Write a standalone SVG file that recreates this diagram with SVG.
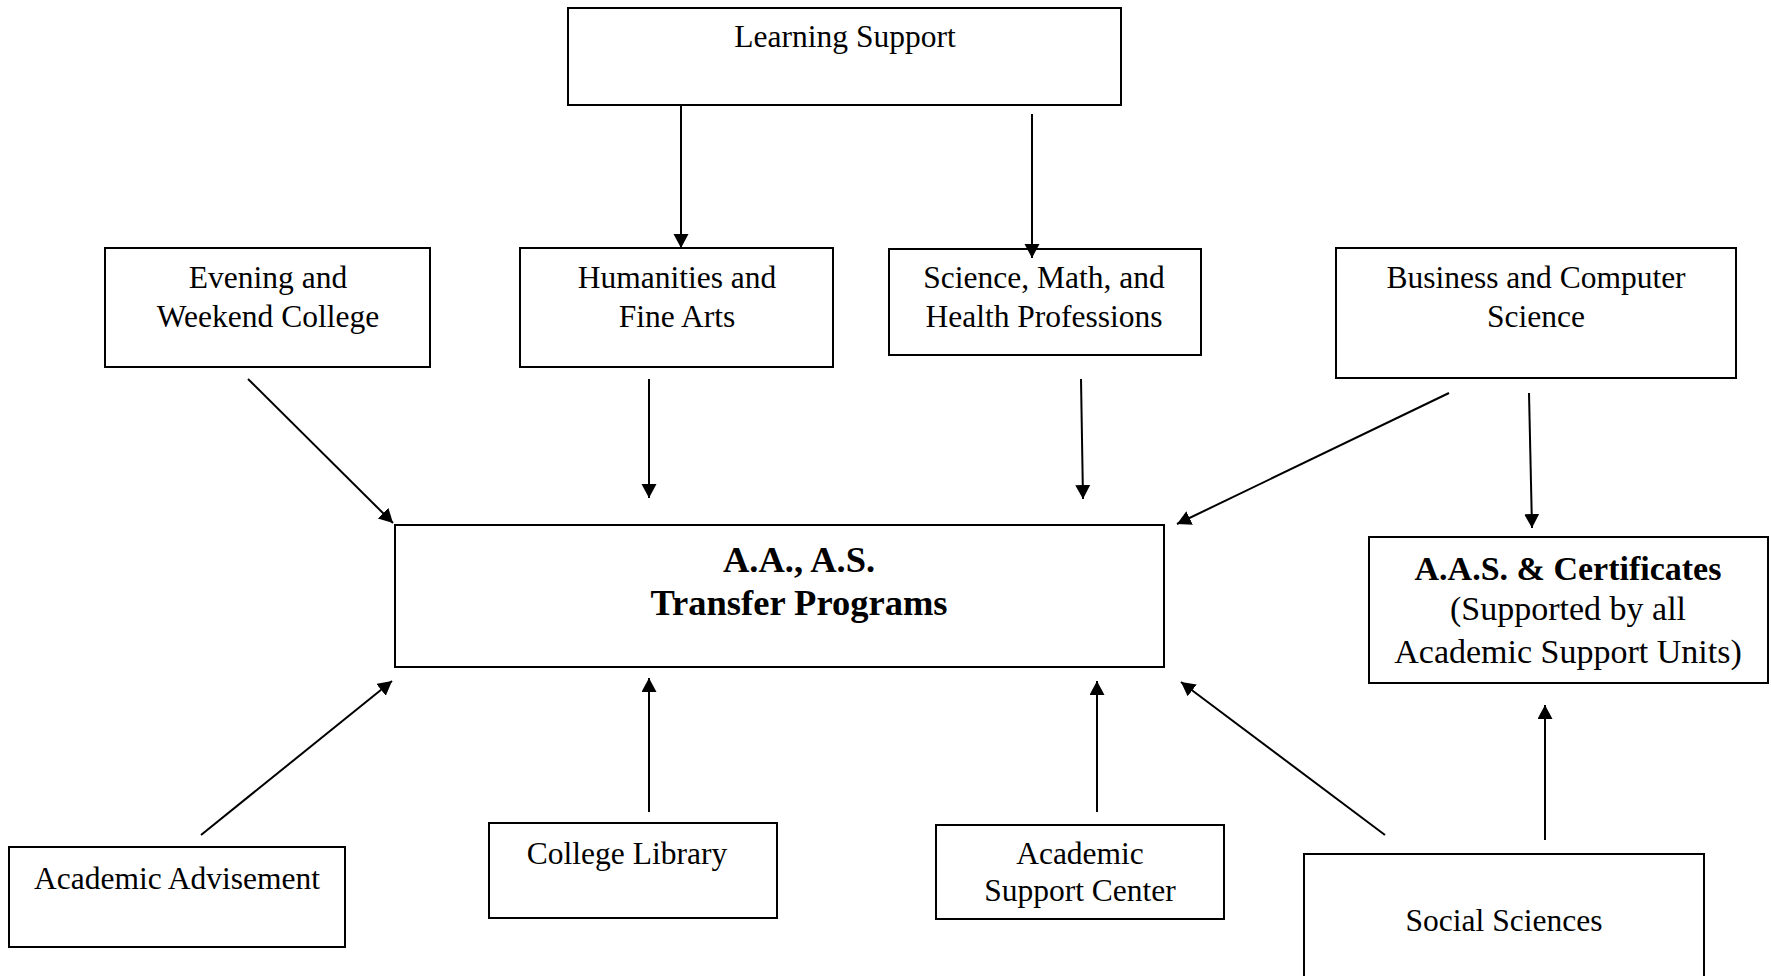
<svg xmlns="http://www.w3.org/2000/svg" width="1771" height="976" viewBox="0 0 1771 976">
<defs>
<style>
.box{fill:#fff;stroke:#000;stroke-width:2}
.t{font-family:"Liberation Serif","Times New Roman",serif;font-size:31.5px;fill:#000;text-anchor:middle}
.b{font-weight:bold}
.c{stroke:#000;stroke-width:2;fill:none;marker-end:url(#ah)}
</style>
<marker id="ah" markerWidth="16" markerHeight="16" refX="14" refY="7.5" orient="auto" markerUnits="userSpaceOnUse">
<path d="M0,0 L14,7.5 L0,15 z" fill="#000"/>
</marker>
</defs>
<rect width="1771" height="976" fill="#fff"/>

<g id="learning-support">
<rect class="box" x="568" y="8" width="553" height="97"/>
<text class="t" x="845" y="47">Learning Support</text>
</g>
<g id="evening-weekend">
<rect class="box" x="105" y="248" width="325" height="119"/>
<text class="t" x="268" y="288">Evening and</text>
<text class="t" x="268" y="327">Weekend College</text>
</g>
<g id="humanities">
<rect class="box" x="520" y="248" width="313" height="119"/>
<text class="t" x="677" y="288">Humanities and</text>
<text class="t" x="677" y="327">Fine Arts</text>
</g>
<g id="science">
<rect class="box" x="889" y="249" width="312" height="106"/>
<text class="t" x="1044" y="288">Science, Math, and</text>
<text class="t" x="1044" y="327">Health Professions</text>
</g>
<g id="business">
<rect class="box" x="1336" y="248" width="400" height="130"/>
<text class="t" x="1536" y="288">Business and Computer</text>
<text class="t" x="1536" y="327">Science</text>
</g>
<g id="transfer">
<rect class="box" x="395" y="525" width="769" height="142"/>
<text class="t b" x="799" y="572" style="font-size:36.5px">A.A., A.S.</text>
<text class="t b" x="799" y="615" style="font-size:36.5px">Transfer Programs</text>
</g>
<g id="aas">
<rect class="box" x="1369" y="537" width="399" height="146"/>
<text class="t b" x="1568" y="580" style="font-size:34px">A.A.S. &amp; Certificates</text>
<text class="t" x="1568" y="620" style="font-size:34px">(Supported by all</text>
<text class="t" x="1568" y="663" style="font-size:34px">Academic Support Units)</text>
</g>
<g id="advisement">
<rect class="box" x="9" y="847" width="336" height="100"/>
<text class="t" x="177" y="889">Academic Advisement</text>
</g>
<g id="library">
<rect class="box" x="489" y="823" width="288" height="95"/>
<text class="t" x="627" y="864">College Library</text>
</g>
<g id="support-center">
<rect class="box" x="936" y="825" width="288" height="94"/>
<text class="t" x="1080" y="864">Academic</text>
<text class="t" x="1080" y="901">Support Center</text>
</g>
<g id="social">
<rect class="box" x="1304" y="854" width="400" height="130"/>
<text class="t" x="1504" y="931">Social Sciences</text>
</g>

<g id="connectors">
<line class="c" x1="681" y1="105" x2="681" y2="248"/>
<line class="c" x1="1032" y1="114" x2="1032" y2="258"/>
<line class="c" x1="248" y1="379" x2="393" y2="523"/>
<line class="c" x1="649" y1="379" x2="649" y2="498"/>
<line class="c" x1="1081" y1="379" x2="1083" y2="499"/>
<line class="c" x1="1449" y1="393" x2="1177" y2="524"/>
<line class="c" x1="1529" y1="393" x2="1532" y2="528"/>
<line class="c" x1="201" y1="835" x2="392" y2="681"/>
<line class="c" x1="649" y1="812" x2="649" y2="678"/>
<line class="c" x1="1097" y1="812" x2="1097" y2="681"/>
<line class="c" x1="1385" y1="835" x2="1181" y2="682"/>
<line class="c" x1="1545" y1="840" x2="1545" y2="705"/>
</g>
</svg>
